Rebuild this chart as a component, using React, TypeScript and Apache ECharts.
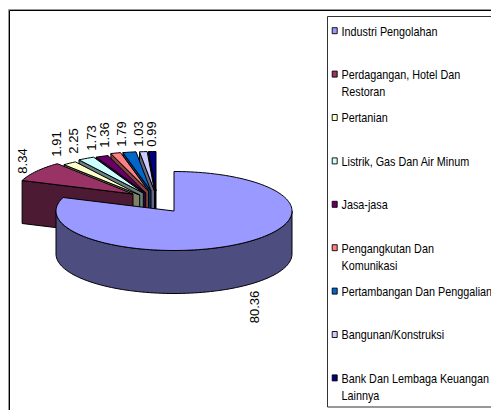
import React, { useEffect, useRef } from "react";
import * as echarts from "echarts";

const categories = [
  "Industri Pengolahan",
  "Perdagangan, Hotel Dan\nRestoran",
  "Pertanian",
  "Listrik, Gas Dan Air Minum",
  "Jasa-jasa",
  "Pengangkutan Dan\nKomunikasi",
  "Pertambangan Dan Penggalian",
  "Bangunan/Konstruksi",
  "Bank Dan Lembaga Keuangan\nLainnya",
];
const values = [80.36, 8.34, 1.91, 2.25, 1.73, 1.36, 1.79, 1.03, 0.99];
const colors = ["#9999FF", "#993366", "#FFFFCC", "#CCFFFF", "#660066", "#FF8080", "#0066CC", "#CCCCFF", "#000080"];
const wallColors = ["#4D4D80", "#4D1A33", "#808066", "#668080", "#330033", "#804040", "#003366", "#666680", "#000040"];

// layout of the 3D pie
const CX = 174, CY = 211, RX = 118, RY = 39.5, DEPTH = 43;
const apexes = [
  [CX, CY], [133, 194], [139.7, 195], [143.3, 193], [145.7, 193],
  [148.6, 191], [151, 191], [154.5, 191], [156, 191],
];
const labelPos = [
  [254, 307], [22.7, 161], [56, 144], [73, 141], [91, 138],
  [104, 135], [121, 134], [138, 134], [151, 134],
];

const total = values.reduce((a, b) => a + b, 0);
const starts: number[] = [];
values.reduce((acc, v, i) => { starts[i] = acc; return acc + (v / total) * 360; }, 0);

const pt = (ax: number, ay: number, deg: number) => {
  const r = (deg * Math.PI) / 180;
  return [ax + RX * Math.sin(r), ay - RY * Math.cos(r)];
};
const arc = (ax: number, ay: number, from: number, to: number) => {
  const out: number[][] = [];
  const n = Math.max(2, Math.ceil(Math.abs(to - from) / 2));
  for (let k = 0; k <= n; k++) out.push(pt(ax, ay, from + ((to - from) * k) / n));
  return out;
};

const LINE = { stroke: "#000", lineWidth: 1, lineJoin: "round" };

function renderItem(_params: any, api: any) {
  const i = api.value(0) as number;
  const v = api.value(1) as number;
  const [ax, ay] = apexes[i];
  const a0 = starts[i];
  const a1 = a0 + (v / total) * 360;
  const children: any[] = [];
  const poly = (points: number[][], fill: string) =>
    children.push({ type: "polygon", shape: { points }, style: { fill, ...LINE } });

  if (i === 0) {
    const front = arc(ax, ay, 90, 270);
    const down = front.slice().reverse().map((p) => [p[0], p[1] + DEPTH]);
    poly([...front, ...down], wallColors[i]);
  } else {
    const outer = pt(ax, ay, a0);
    poly([[ax, ay], outer, [outer[0], outer[1] + DEPTH], [ax, ay + DEPTH]], wallColors[i]);
  }
  poly([[ax, ay], ...arc(ax, ay, a0, a1)], colors[i]);
  children.push({
    type: "text",
    x: labelPos[i][0],
    y: labelPos[i][1],
    rotation: Math.PI / 2,
    style: {
      text: v.toFixed(2),
      fill: "#000",
      font: '13px "Liberation Sans", Arial, sans-serif',
      textAlign: "center",
      textVerticalAlign: "middle",
    },
  });
  return { type: "group", children };
}

export default function App() {
  const ref = useRef<HTMLDivElement>(null);
  useEffect(() => {
    const chart = echarts.init(ref.current!, undefined, { renderer: "svg" });
    const legend: any[] = [];
    categories.forEach((name, i) => {
      const y = 31 + i * 43.4;
      legend.push({
        type: "rect",
        shape: { x: 332.2, y: y - 3.3, width: 5, height: 6 },
        style: { fill: colors[i], stroke: "#000", lineWidth: 0.9 },
      });
      legend.push({
        type: "text",
        x: 341.5,
        y: y - 8,
        scaleX: 0.9,
        style: {
          text: name,
          fill: "#000",
          font: '12px "Liberation Sans", Arial, sans-serif',
          lineHeight: 17,
          textAlign: "left",
          textVerticalAlign: "top",
        },
      });
    });
    chart.setOption({
      animation: false,
      backgroundColor: "#fff",
      graphic: {
        elements: [
          { type: "rect", shape: { x: 8.5, y: 9.5, width: 600, height: 600 }, style: { fill: "none", stroke: "#999", lineWidth: 1 } },
          { type: "rect", shape: { x: 9.5, y: 10.5, width: 600, height: 600 }, style: { fill: "none", stroke: "#000", lineWidth: 1 } },
          { type: "rect", shape: { x: 327.5, y: 16.5, width: 300, height: 390.5 }, style: { fill: "#fff", stroke: "#333", lineWidth: 1 } },
          ...legend,
        ],
      },
      series: [
        {
          type: "custom",
          coordinateSystem: "none",
          renderItem,
          silent: true,
          // drawn back to front: the smallest, rearmost wedge first, the main slice last
          data: values.map((v, i) => [i, v]).reverse(),
          encode: {},
        },
      ],
    });
    return () => chart.dispose();
  }, []);
  return <div ref={ref} style={{ position: "absolute", left: 0, top: 0, width: 491, height: 410 }} />;
}
